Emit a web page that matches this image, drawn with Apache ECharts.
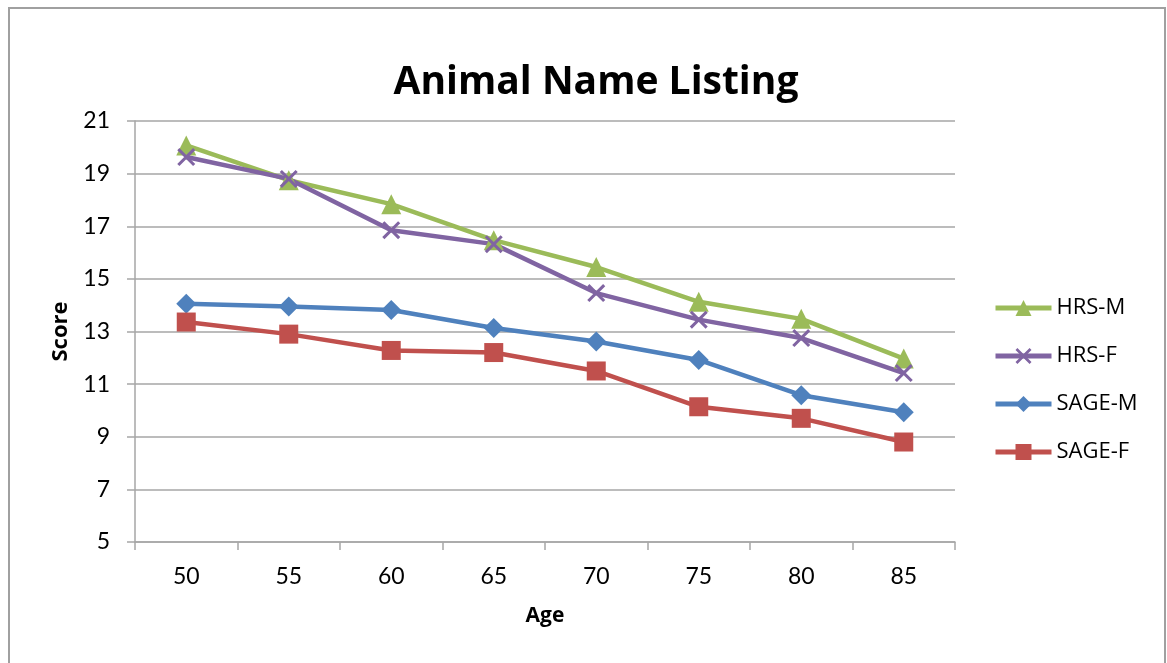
<!DOCTYPE html>
<html>
<head>
<meta charset="utf-8">
<script src="https://cdn.jsdelivr.net/npm/echarts@6/dist/echarts.min.js"></script>
<style>
  html, body { margin: 0; padding: 0; background: #fff; }
  #chart { width: 1167px; height: 663px; }
</style>
</head>
<body>
<div id="chart"></div>
<script>
// Age groups on the category axis
const ages = ['50', '55', '60', '65', '70', '75', '80', '85'];

// Mean animal-naming scores per age group
const hrsM  = [20.07, 18.75, 17.84, 16.47, 15.45, 14.13, 13.48, 11.97];
const hrsF  = [19.63, 18.80, 16.85, 16.32, 14.46, 13.45, 12.75, 11.42];
const sageM = [14.05, 13.95, 13.82, 13.13, 12.62, 11.92, 10.58, 9.93];
const sageF = [13.36, 12.90, 12.28, 12.20, 11.50, 10.14, 9.70, 8.80];

const seriesNames = ['HRS-M', 'HRS-F', 'SAGE-M', 'SAGE-F'];
const seriesColors = ['#9bbb59', '#8064a2', '#4f81bd', '#c0504d'];

const FONT = 'Lato, "Open Sans", sans-serif';
const BOLD_FONT = '"Open Sans", Lato, sans-serif';
const GRID = '#a6a6a6';

// thin filled "x" mark
const crossPath = 'path://M0,1.2L1.2,0L10,8.8L8.8,10Z M8.8,0L10,1.2L1.2,10L0,8.8Z';

function lineSeries(name, data, color, symbol, size) {
  return {
    name: name,
    type: 'line',
    data: data,
    symbol: symbol,
    symbolSize: size,
    showSymbol: true,
    lineStyle: { color: color, width: 4.5 },
    itemStyle: { color: color },
    emphasis: { disabled: true },
    animation: false
  };
}

const chart = echarts.init(document.getElementById('chart'));
chart.setOption({
  backgroundColor: '#fff',
  animation: false,
  title: {
    text: 'Animal Name Listing',
    left: 591,
    textAlign: 'center',
    top: 58,
    textStyle: { fontFamily: BOLD_FONT, fontWeight: 'bold', fontSize: 39, color: '#000' }
  },
  graphic: [{
    type: 'rect',
    shape: { x: 9, y: 8, width: 1156, height: 700 },
    style: { fill: 'none', stroke: '#a0a0a0', lineWidth: 2 },
    silent: true,
    z: -1
  }],
  legend: {
    orient: 'vertical',
    left: 988,
    top: 292,
    padding: 5,
    itemWidth: 56,
    itemHeight: 20,
    itemGap: 26,
    data: seriesNames.map((n, i) => ({
      name: n,
      lineStyle: { color: seriesColors[i], width: 5 },
      itemStyle: { color: seriesColors[i] }
    })),
    textStyle: { fontFamily: '"Open Sans", sans-serif', fontSize: 22, color: '#000', lineHeight: 21 }
  },
  grid: { left: 135, top: 121, width: 820, height: 421, containLabel: false },
  xAxis: {
    type: 'category',
    data: ages,
    boundaryGap: true,
    name: 'Age',
    nameLocation: 'middle',
    nameGap: 64,
    nameTextStyle: { fontFamily: BOLD_FONT, fontWeight: 'bold', fontSize: 21, color: '#000' },
    axisLine: { lineStyle: { color: GRID, width: 1.5 } },
    axisTick: { show: true, length: 8, lineStyle: { color: GRID, width: 1.5 } },
    axisLabel: { margin: 23, fontFamily: FONT, fontSize: 23, color: '#000' },
    splitLine: { show: false }
  },
  yAxis: {
    type: 'value',
    min: 5,
    max: 21,
    interval: 2,
    name: 'Score',
    nameLocation: 'middle',
    nameGap: 63,
    nameTextStyle: { fontFamily: BOLD_FONT, fontWeight: 'bold', fontSize: 22, color: '#000' },
    axisLine: { show: true, lineStyle: { color: GRID, width: 1.5 } },
    axisTick: { show: true, length: 8, lineStyle: { color: GRID, width: 1.5 } },
    axisLabel: { margin: 25, fontFamily: FONT, fontSize: 23, color: '#000' },
    splitLine: { show: true, lineStyle: { color: GRID, width: 1.5 } }
  },
  series: [
    lineSeries('HRS-M', hrsM, seriesColors[0], 'triangle', 20),
    lineSeries('HRS-F', hrsF, seriesColors[1], crossPath, 18),
    lineSeries('SAGE-M', sageM, seriesColors[2], 'diamond', 20),
    lineSeries('SAGE-F', sageF, seriesColors[3], 'rect', 19)
  ]
});
</script>
</body>
</html>
